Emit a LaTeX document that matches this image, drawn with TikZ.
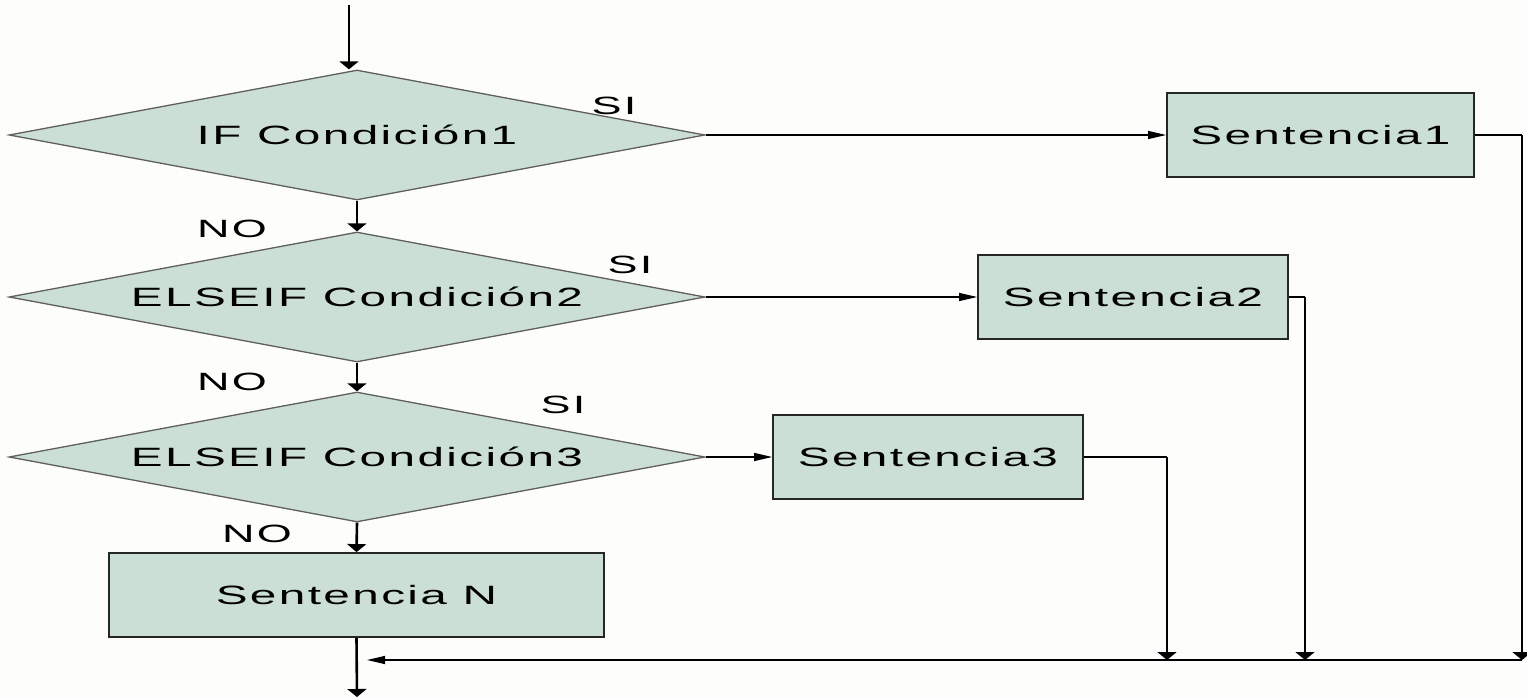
\documentclass[tikz,border=0pt]{standalone}
\usepackage{fontspec}
\usetikzlibrary{shapes.geometric,arrows.meta}
\newfontfamily\flowfont[FakeStretch=1.8,LetterSpace=9]{Liberation Sans}
\definecolor{boxfill}{RGB}{204,223,213}
\definecolor{diamline}{RGB}{95,95,95}
\definecolor{paper}{RGB}{253,253,251}
\tikzstyle{decision}=[diamond,draw=diamline,fill=boxfill,line width=1.3pt,
                      shape aspect=5.35,minimum width=696pt,minimum height=130pt,
                      inner sep=0pt,font=\flowfont\fontsize{26.5}{30}\selectfont]
\tikzstyle{sentence}=[rectangle,draw=black!85,fill=boxfill,line width=1.8pt,
                      minimum height=84pt,inner sep=0pt,
                      font=\flowfont\fontsize{26.5}{30}\selectfont]
\tikzstyle{answer}=[inner sep=0pt,font=\flowfont\fontsize{25}{30}\selectfont]
\tikzstyle{hline}=[line width=1.3pt]
\tikzstyle{vline}=[line width=2.6pt]
\tikzstyle{harrow}=[hline,-{Triangle[length=18pt,width=8pt]}]
\tikzstyle{varrow}=[vline,-{Triangle[length=8pt,width=19pt]}]

\begin{document}
\begin{tikzpicture}[x=1pt,y=-1pt]
    \fill[paper] (0,0) rectangle (1527,698);
    \useasboundingbox (0,0) rectangle (1527,698);
    % decisions
    \node (c1) at (357,135) [decision]{IF Condición1};
    \node (c2) at (357,297) [decision]{ELSEIF Condición2};
    \node (c3) at (357,457) [decision]{ELSEIF Condición3};
    % sentences
    \node (s1) at (1320.5,135) [sentence,minimum width=307pt]{Sentencia1};
    \node (s2) at (1133,297) [sentence,minimum width=310pt]{Sentencia2};
    \node (s3) at (928,457) [sentence,minimum width=310pt]{Sentencia3};
    \node (sn) at (356.5,595) [sentence,minimum width=495pt]{Sentencia N};
    % answers
    \node (si1) at (614,106) [answer]{SI};
    \node (si2) at (630,265) [answer]{SI};
    \node (si3) at (563,405) [answer]{SI};
    \node (no1) at (232,229) [answer]{NO};
    \node (no2) at (232,382) [answer]{NO};
    \node (no3) at (257,534) [answer]{NO};
    % free ends and joins
    \coordinate (in) at (349,5);
    \coordinate (out) at (357,697);
    \coordinate (j1) at (1522,660);
    \coordinate (j2) at (1305,660);
    \coordinate (j3) at (1167,660);
    \coordinate (back) at (367,660);
    \draw[varrow] (in) -- (in |- c1.north);
    \draw[varrow] (c1.south) -- (c2.north);
    \draw[varrow] (c2.south) -- (c3.north);
    \draw[varrow] (c3.south) -- (sn.north);
    \draw[harrow] (c1.east) -- (s1.west);
    \draw[harrow] (c2.east) -- (s2.west);
    \draw[harrow] (c3.east) -- (s3.west);
    \draw[hline] (s1.east) -- (s1.east -| j1);
    \draw[varrow] (s1.east -| j1) -- (j1);
    \draw[hline] (s2.east) -- (s2.east -| j2);
    \draw[varrow] (s2.east -| j2) -- (j2);
    \draw[hline] (s3.east) -- (s3.east -| j3);
    \draw[varrow] (s3.east -| j3) -- (j3);
    \draw[harrow] (j1) -- (back);
    \draw[varrow] (sn.south) -- (out);
\end{tikzpicture}
\end{document}
